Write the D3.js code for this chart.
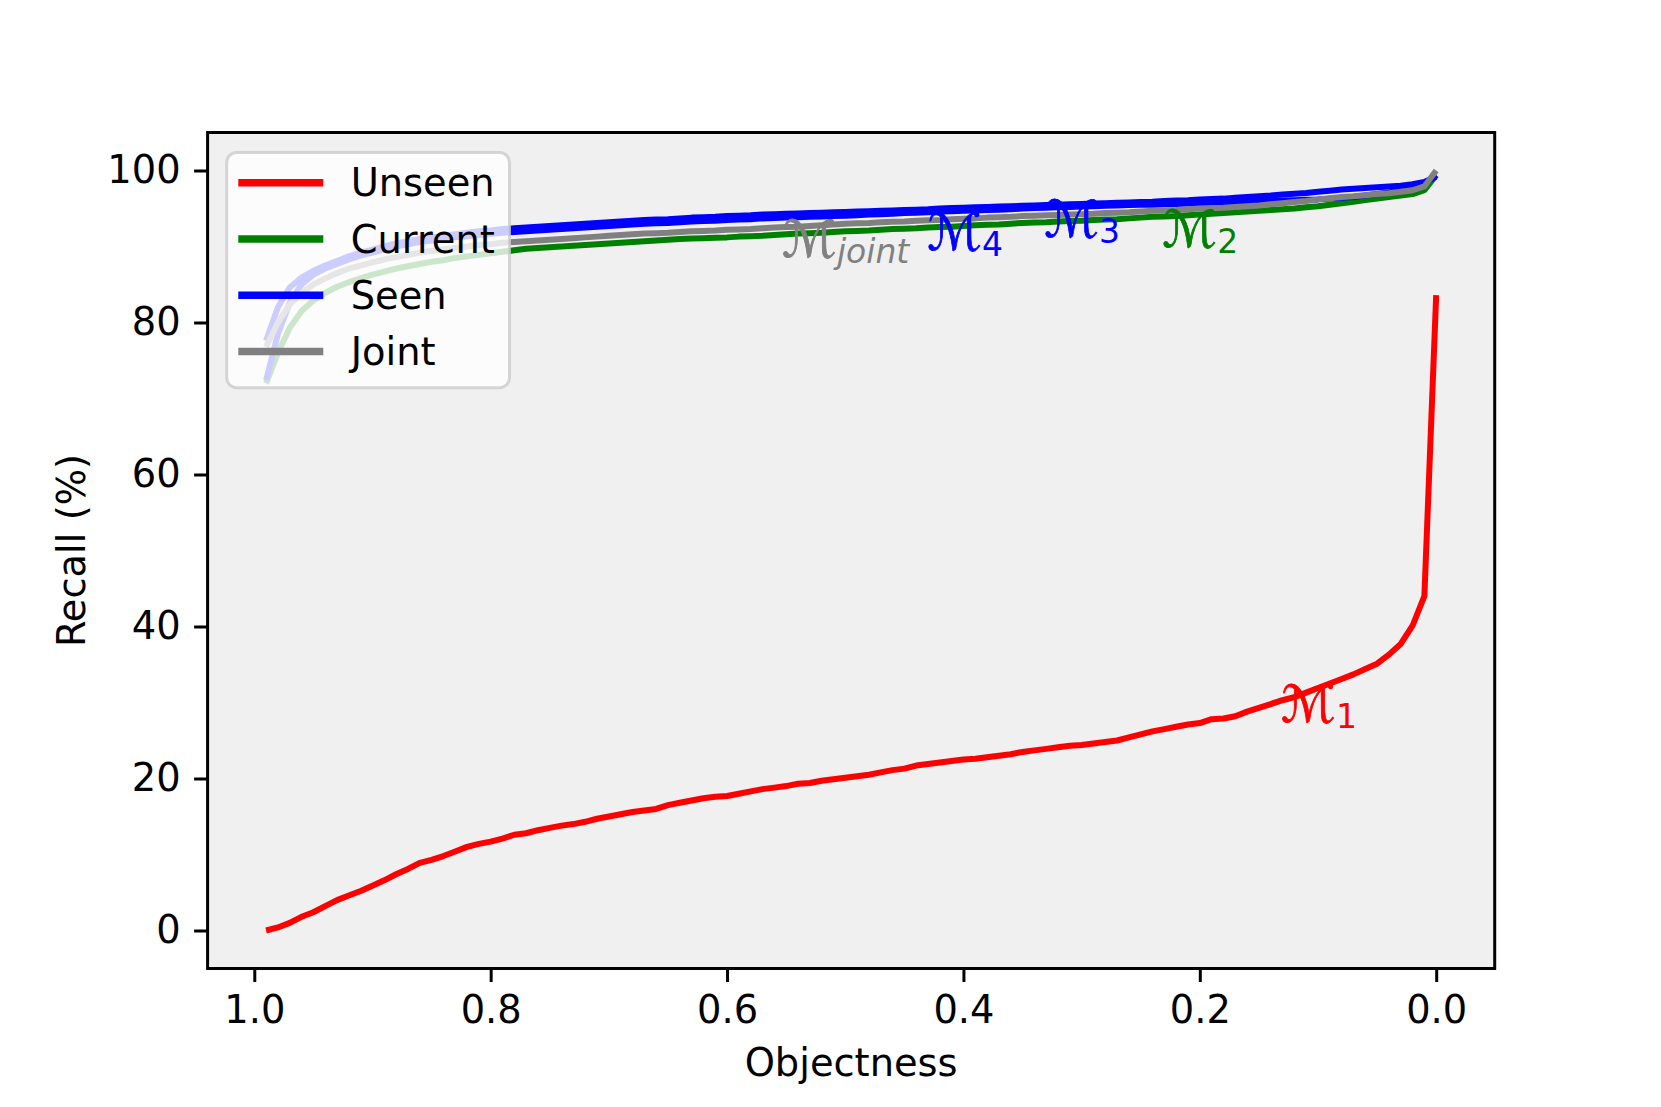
<!DOCTYPE html>
<html><head><meta charset="utf-8">
<script src="https://cdn.jsdelivr.net/npm/d3@7"></script>
<style>body{margin:0;background:#fff}svg{display:block}</style>
</head><body>
<svg id="chart" width="1661" height="1107"></svg>
<script>
// ---------------- data ----------------
const objectness = [0.99,0.98,0.97,0.96,0.95,0.94,0.93,0.92,0.91,0.90,
  0.89,0.88,0.87,0.86,0.85,0.84,0.83,0.82,0.81,0.80,
  0.79,0.78,0.77,0.76,0.75,0.74,0.73,0.72,0.71,0.70,
  0.69,0.68,0.67,0.66,0.65,0.64,0.63,0.62,0.61,0.60,
  0.59,0.58,0.57,0.56,0.55,0.54,0.53,0.52,0.51,0.50,
  0.49,0.48,0.47,0.46,0.45,0.44,0.43,0.42,0.41,0.40,
  0.39,0.38,0.37,0.36,0.35,0.34,0.33,0.32,0.31,0.30,
  0.29,0.28,0.27,0.26,0.25,0.24,0.23,0.22,0.21,0.20,
  0.19,0.18,0.17,0.16,0.15,0.14,0.13,0.12,0.11,0.10,
  0.09,0.08,0.07,0.06,0.05,0.04,0.03,0.02,0.01,0.00];

const unseenM1 = [0.0,0.4,1.0,1.8,2.4,3.2,4.0,4.6,5.2,5.9,
  6.6,7.4,8.1,8.9,9.3,9.8,10.4,11.0,11.4,11.7,
  12.1,12.6,12.8,13.2,13.5,13.8,14.0,14.3,14.7,15.0,
  15.3,15.6,15.8,16.0,16.5,16.8,17.1,17.4,17.6,17.7,
  18.0,18.3,18.6,18.8,19.0,19.3,19.4,19.7,19.9,20.1,
  20.3,20.5,20.8,21.1,21.3,21.7,21.9,22.1,22.3,22.5,
  22.6,22.8,23.0,23.2,23.5,23.7,23.9,24.1,24.3,24.4,
  24.6,24.8,25.0,25.4,25.8,26.2,26.5,26.8,27.1,27.3,
  27.8,27.9,28.2,28.8,29.3,29.8,30.3,30.7,31.3,31.9,
  32.5,33.1,33.7,34.4,35.1,36.3,37.7,40.1,44.0,83.6];

const currentM2 = [72.0,76.0,79.3,81.5,82.9,83.9,84.7,85.3,85.8,86.3,
  86.7,87.1,87.4,87.7,88.0,88.2,88.5,88.7,88.9,89.1,
  89.3,89.5,89.7,89.8,89.9,90.0,90.1,90.2,90.3,90.4,
  90.5,90.6,90.7,90.8,90.9,91.0,91.05,91.1,91.15,91.2,
  91.3,91.35,91.4,91.5,91.6,91.7,91.75,91.8,91.9,92.0,
  92.05,92.1,92.2,92.3,92.35,92.4,92.5,92.55,92.6,92.7,
  92.8,92.85,92.9,93.0,93.1,93.15,93.2,93.3,93.35,93.4,
  93.5,93.55,93.6,93.7,93.8,93.9,93.95,94.0,94.1,94.2,
  94.3,94.4,94.5,94.6,94.7,94.8,94.9,95.0,95.15,95.3,
  95.5,95.7,95.9,96.1,96.3,96.5,96.7,96.9,97.4,99.4];

const seenM3 = [77.6,82.0,84.6,85.9,86.8,87.5,88.1,88.7,89.2,89.6,
  90.0,90.4,90.7,91.0,91.2,91.4,91.6,91.8,92.0,92.1,
  92.3,92.4,92.5,92.6,92.7,92.8,92.9,93.0,93.1,93.2,
  93.3,93.4,93.5,93.55,93.6,93.7,93.8,93.85,93.9,94.0,
  94.05,94.1,94.2,94.25,94.3,94.35,94.4,94.45,94.5,94.55,
  94.6,94.65,94.7,94.75,94.8,94.85,94.9,95.0,95.05,95.1,
  95.15,95.2,95.25,95.3,95.35,95.4,95.45,95.5,95.55,95.6,
  95.65,95.7,95.75,95.8,95.85,95.9,96.0,96.05,96.1,96.2,
  96.25,96.3,96.4,96.5,96.6,96.7,96.85,96.95,97.05,97.2,
  97.35,97.5,97.6,97.7,97.8,97.9,98.0,98.2,98.5,99.2];

const seenM4 = [72.4,78.5,82.6,85.0,86.3,87.1,87.7,88.3,88.8,89.2,
  89.6,90.0,90.3,90.6,90.8,91.0,91.2,91.35,91.5,91.65,
  91.8,91.9,92.0,92.1,92.2,92.3,92.4,92.5,92.6,92.7,
  92.8,92.9,93.0,93.05,93.1,93.2,93.3,93.35,93.4,93.5,
  93.55,93.6,93.7,93.75,93.8,93.85,93.9,93.95,94.0,94.05,
  94.1,94.2,94.25,94.3,94.4,94.45,94.5,94.6,94.65,94.7,
  94.75,94.8,94.85,94.9,95.0,95.05,95.1,95.15,95.2,95.25,
  95.3,95.35,95.4,95.45,95.5,95.5,95.55,95.6,95.65,95.7,
  95.75,95.8,95.85,95.9,95.95,96.0,96.05,96.1,96.15,96.2,
  96.3,96.4,96.5,96.7,96.9,97.1,97.4,97.7,98.2,99.4];

const jointMjoint = [76.8,80.0,82.4,83.9,85.0,85.8,86.5,87.1,87.5,87.9,
  88.3,88.6,88.9,89.2,89.4,89.6,89.8,90.0,90.2,90.3,
  90.5,90.6,90.7,90.8,90.9,91.0,91.1,91.2,91.3,91.4,
  91.5,91.6,91.7,91.75,91.8,91.9,92.0,92.05,92.1,92.2,
  92.25,92.3,92.4,92.5,92.55,92.6,92.7,92.8,92.9,93.0,
  93.05,93.1,93.2,93.25,93.3,93.4,93.45,93.5,93.6,93.65,
  93.7,93.8,93.85,93.9,94.0,94.05,94.1,94.15,94.2,94.25,
  94.3,94.4,94.45,94.5,94.6,94.7,94.75,94.8,94.9,95.0,
  95.05,95.1,95.2,95.3,95.4,95.55,95.7,95.85,96.0,96.2,
  96.35,96.5,96.6,96.75,96.9,97.0,97.2,97.4,97.9,100.0];

const seriesValues = [unseenM1, currentM2, seenM3, seenM4, jointMjoint];
const seriesColors = ["#ff0000", "#008000", "#0000ff", "#0000ff", "#808080"];

const legendNames = ["Unseen", "Current", "Seen", "Joint"];
const legendColors = ["#ff0000", "#008000", "#0000ff", "#808080"];

const xTicks = [1.0, 0.8, 0.6, 0.4, 0.2, 0.0];
const yTicks = [0, 20, 40, 60, 80, 100];

const annoSub = ["1", "2", "3", "4", "joint"];
const annoX = [0.131, 0.2315, 0.3314, 0.4304, 0.5532];
const annoY = [27.45, 89.95, 91.27, 89.52, 88.63];
const annoColors = ["#ff0000", "#008000", "#0000ff", "#0000ff", "#808080"];

// ---------------- layout ----------------
const L = 207.6, R = 1494.7, T = 132.5, B = 968.5;
const FONT = "'DejaVu Sans', sans-serif";
const FS = 38.4;

const svg = d3.select("#chart");
const x = d3.scaleLinear().domain([1.0395, -0.0495]).range([L, R]);
const y = d3.scaleLinear().domain([-5, 105]).range([B, T]);

svg.append("rect").attr("width", 1661).attr("height", 1107).attr("fill", "#fff");
svg.append("rect").attr("x", L).attr("y", T).attr("width", R - L).attr("height", B - T).attr("fill", "#f0f0f0");

svg.append("defs").append("clipPath").attr("id", "clip")
  .append("rect").attr("x", L).attr("y", T).attr("width", R - L).attr("height", B - T);

const line = d3.line().x(d => x(d[0])).y(d => y(d[1]));
const plot = svg.append("g").attr("clip-path", "url(#clip)");
seriesValues.forEach((vals, i) => {
  plot.append("path")
    .attr("d", line(objectness.map((o, j) => [o, vals[j]])))
    .attr("fill", "none")
    .attr("stroke", seriesColors[i])
    .attr("stroke-width", 6)
    .attr("stroke-linejoin", "round")
    .attr("stroke-linecap", "butt");
});

// annotations
annoSub.forEach((s, i) => {
  const t = svg.append("text")
    .attr("x", x(annoX[i])).attr("y", y(annoY[i]))
    .attr("fill", annoColors[i])
    .attr("stroke", annoColors[i]).attr("stroke-width", 0.8)
    .attr("font-family", FONT).attr("font-size", 51);
  t.append("tspan").text("ℳ");
  t.append("tspan").attr("dy", 6).attr("font-size", 33).attr("stroke-width", 0)
    .attr("font-style", s === "joint" ? "italic" : "normal").text(s);
});

// axes
const xAxis = d3.axisBottom(x).tickValues(xTicks).tickFormat(d3.format(".1f")).tickSizeInner(13.5).tickSizeOuter(0).tickPadding(13.5);
const yAxis = d3.axisLeft(y).tickValues(yTicks).tickFormat(d3.format("d")).tickSizeInner(13.5).tickSizeOuter(0).tickPadding(13.5);
const gx = svg.append("g").attr("transform", `translate(0,${B})`).call(xAxis);
const gy = svg.append("g").attr("transform", `translate(${L},0)`).call(yAxis);
[gx, gy].forEach(g => {
  g.select(".domain").remove();
  g.selectAll(".tick line").attr("stroke", "#000").attr("stroke-width", 3);
  g.selectAll(".tick text").attr("font-family", FONT).attr("font-size", FS).attr("fill", "#000");
});

// frame
svg.append("rect").attr("x", L).attr("y", T).attr("width", R - L).attr("height", B - T)
  .attr("fill", "none").attr("stroke", "#000").attr("stroke-width", 3);

// axis labels
svg.append("text").attr("x", (L + R) / 2).attr("y", 1076).attr("text-anchor", "middle")
  .attr("font-family", FONT).attr("font-size", FS).text("Objectness");
svg.append("text").attr("transform", `translate(85,${(T + B) / 2}) rotate(-90)`).attr("text-anchor", "middle")
  .attr("font-family", FONT).attr("font-size", FS).text("Recall (%)");

// legend
const lg = svg.append("g");
lg.append("rect").attr("x", 226.7).attr("y", 152.5).attr("width", 282.8).attr("height", 235.2)
  .attr("rx", 10).attr("fill", "#fff").attr("fill-opacity", 0.8)
  .attr("stroke", "#cccccc").attr("stroke-opacity", 0.8).attr("stroke-width", 3);
legendNames.forEach((n, i) => {
  const ly = 182.7 + i * 56.3;
  lg.append("line").attr("x1", 238.3).attr("x2", 323.3).attr("y1", ly).attr("y2", ly)
    .attr("stroke", legendColors[i]).attr("stroke-width", 7.5);
  lg.append("text").attr("x", 350.7).attr("y", ly + 13.5)
    .attr("font-family", FONT).attr("font-size", FS).attr("fill", "#000").text(n);
});
</script>
</body></html>
